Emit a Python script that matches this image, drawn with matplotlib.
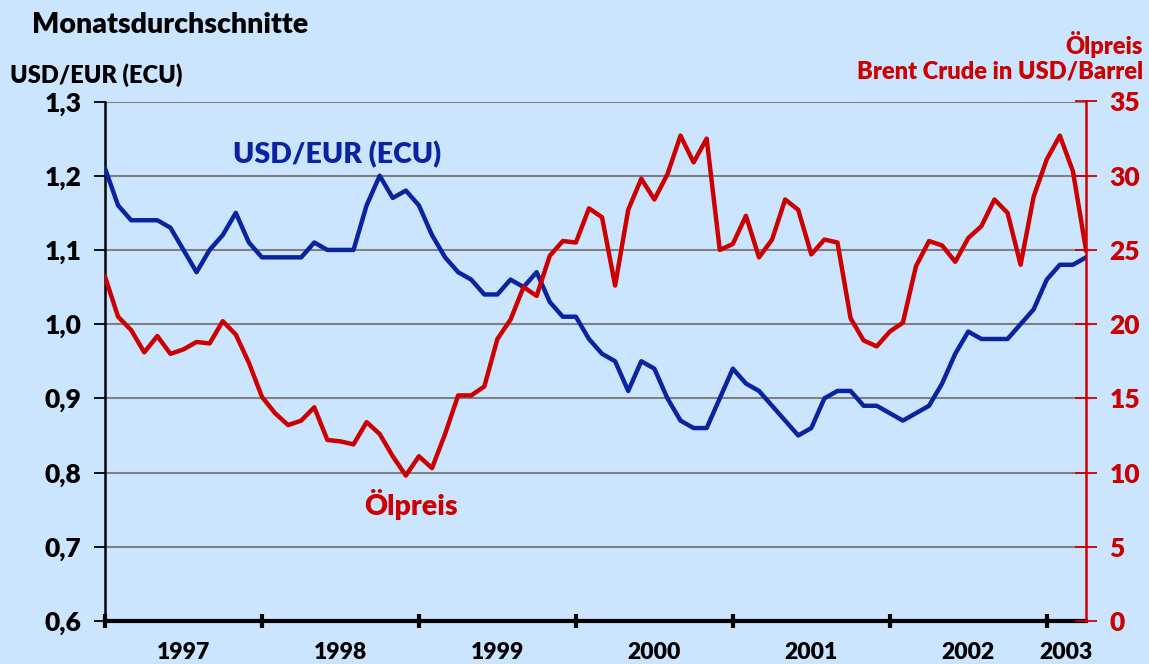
import matplotlib
matplotlib.use("Agg")
import matplotlib.pyplot as plt
from matplotlib.ticker import FixedLocator, FuncFormatter
import numpy as np

# monthly averages, Jan 1997 .. Apr 2003
usd_eur = [1.21, 1.16, 1.14, 1.14, 1.14, 1.13, 1.10, 1.07, 1.10, 1.12, 1.15, 1.11,
           1.09, 1.09, 1.09, 1.09, 1.11, 1.10, 1.10, 1.10, 1.16, 1.20, 1.17, 1.18,
           1.16, 1.12, 1.09, 1.07, 1.06, 1.04, 1.04, 1.06, 1.05, 1.07, 1.03, 1.01,
           1.01, 0.98, 0.96, 0.95, 0.91, 0.95, 0.94, 0.90, 0.87, 0.86, 0.86, 0.90,
           0.94, 0.92, 0.91, 0.89, 0.87, 0.85, 0.86, 0.90, 0.91, 0.91, 0.89, 0.89,
           0.88, 0.87, 0.88, 0.89, 0.92, 0.96, 0.99, 0.98, 0.98, 0.98, 1.00, 1.02,
           1.06, 1.08, 1.08, 1.09]
oil = [23.2, 20.5, 19.6, 18.1, 19.2, 18.0, 18.3, 18.8, 18.7, 20.2, 19.3, 17.4,
       15.1, 14.0, 13.2, 13.5, 14.4, 12.2, 12.1, 11.9, 13.4, 12.6, 11.1, 9.8,
       11.1, 10.3, 12.6, 15.2, 15.2, 15.8, 19.0, 20.3, 22.5, 21.9, 24.6, 25.6,
       25.5, 27.8, 27.2, 22.6, 27.7, 29.8, 28.4, 30.1, 32.7, 30.9, 32.5, 25.0,
       25.4, 27.3, 24.5, 25.7, 28.4, 27.7, 24.7, 25.7, 25.5, 20.4, 18.9, 18.5,
       19.5, 20.1, 23.9, 25.6, 25.3, 24.2, 25.8, 26.6, 28.4, 27.5, 24.0, 28.6,
       31.1, 32.7, 30.3, 25.0]
years = ["1997", "1998", "1999", "2000", "2001", "2002", "2003"]
left_ticks = [0.6, 0.7, 0.8, 0.9, 1.0, 1.1, 1.2, 1.3]
right_ticks = [0, 5, 10, 15, 20, 25, 30, 35]

bg = "#cce5ff"
blue = "#0a24a0"
red = "#cc0000"
font = ["Lato", "DejaVu Sans"]
plt.rcParams["font.family"] = font
plt.rcParams["font.weight"] = "heavy"
W = "heavy"

months = np.arange(len(usd_eur))

fig = plt.figure(figsize=(11.49, 6.64), dpi=100, facecolor=bg)
ax = fig.add_axes([105 / 1149, 43 / 664, 981 / 1149, 519.5 / 664])
ax.set_facecolor(bg)
ax2 = ax.twinx()

for y in left_ticks[1:]:
    ax.axhline(y, color="#808080", lw=1.5, zorder=1)

ax.plot(months, usd_eur, color=blue, lw=3.2, zorder=3, solid_joinstyle="round")
ax2.plot(months, oil, color=red, lw=3.2, zorder=3, solid_joinstyle="round")

ax.set_xlim(0, len(usd_eur) - 1)
ax.set_ylim(0.6, 1.3)
ax2.set_ylim(0, 35)

# y axes
ax.set_yticks(left_ticks)
ax.yaxis.set_major_formatter(FuncFormatter(lambda v, p: f"{v:.1f}".replace(".", ",")))
ax.tick_params(axis="y", direction="out", length=8, width=1.3, color="black",
               labelsize=19, pad=9, labelcolor="black")
ax2.set_yticks(right_ticks)
ax2.tick_params(axis="y", direction="inout", length=16, width=1.3, color=red,
                labelsize=19, pad=9, labelcolor=red)

# x axis: year boundaries as ticks, labels in the middle
year_starts = [12 * i for i in range(len(years))]
ax.xaxis.set_major_locator(FixedLocator(year_starts))
ax.xaxis.set_major_formatter(FuncFormatter(lambda v, p: ""))
label_pos = [12 * i + 6 for i in range(len(years) - 1)]
label_pos.append((year_starts[-1] + len(usd_eur) - 1) / 2)
ax.xaxis.set_minor_locator(FixedLocator(label_pos))
ax.set_xticklabels(years, minor=True)
ax.tick_params(axis="x", which="major", direction="inout", length=10, width=3, color="black")
ax.tick_params(axis="x", which="minor", length=0, labelsize=16.5, pad=15)

for a in (ax, ax2):
    a.spines["top"].set_visible(False)
ax.spines["left"].set_linewidth(1.8)
ax.spines["left"].set_color("black")
ax.spines["bottom"].set_linewidth(3)
ax.spines["bottom"].set_color("black")
ax.spines["right"].set_visible(False)
ax2.spines["left"].set_visible(False)
ax2.spines["bottom"].set_visible(False)
ax2.spines["right"].set_color(red)
ax2.spines["right"].set_linewidth(1.8)

# labels
fig.text(32 / 1149, 1 - 25 / 664, "Monatsdurchschnitte", fontsize=20.5, weight=W,
         va="center", ha="left", color="black")
fig.text(10 / 1149, 1 - 75 / 664, "USD/EUR (ECU)", fontsize=17, weight=W,
         va="center", ha="left", color="black")
fig.text(1143 / 1149, 1 - 45 / 664, "Ölpreis", fontsize=17, weight=W,
         va="center", ha="right", color=red)
fig.text(1143 / 1149, 1 - 72 / 664, "Brent Crude in USD/Barrel", fontsize=17, weight=W,
         va="center", ha="right", color=red)
fig.text(337 / 1149, 1 - 155 / 664, "USD/EUR (ECU)", fontsize=20.5, weight=W,
         va="center", ha="center", color=blue)
fig.text(411 / 1149, 1 - 505 / 664, "Ölpreis", fontsize=20.5, weight=W,
         va="center", ha="center", color=red)

fig.savefig("out.png", dpi=100, facecolor=bg)
